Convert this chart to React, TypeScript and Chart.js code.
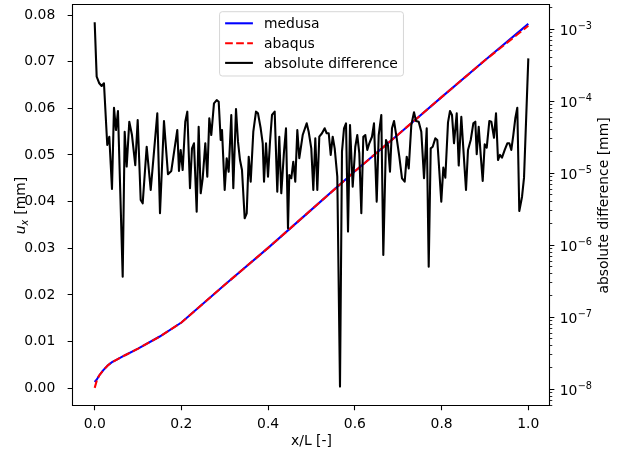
import React, { useEffect, useRef } from 'react';
import { Chart, registerables } from 'chart.js';

Chart.register(...registerables);

// ---------- data ----------
const dispX = [0, 0.005, 0.01, 0.02, 0.03, 0.04, 0.05, 0.07, 0.1, 0.15, 0.2, 0.3, 0.4, 0.5, 0.6, 0.7, 0.8, 0.9, 1.0];
const medusa = [0.00135, 0.0019, 0.0027, 0.0039, 0.0049, 0.0056, 0.0061, 0.0071, 0.0085, 0.0111, 0.0141, 0.0222, 0.0301, 0.0383, 0.0465, 0.0544, 0.0624, 0.0703, 0.0781];
const abaqus = [0.0001, 0.0017, 0.0027, 0.0039, 0.0049, 0.0056, 0.0061, 0.0071, 0.0085, 0.0111, 0.0141, 0.0222, 0.0301, 0.0383, 0.0465, 0.0544, 0.0624, 0.0703, 0.0777];

const diffX = [
  0.0, 0.0046, 0.0106, 0.0161, 0.0214, 0.029, 0.0337, 0.0399, 0.0445, 0.0491,
  0.0537, 0.0646, 0.0692, 0.0738, 0.0798, 0.086, 0.0936, 0.0992, 0.1061, 0.1107,
  0.1199, 0.1292, 0.1444, 0.1506, 0.1598, 0.169, 0.1767, 0.1905, 0.1944, 0.1983,
  0.2029, 0.2089, 0.2136, 0.2198, 0.2244, 0.229, 0.2352, 0.2398, 0.2445, 0.2491,
  0.2551, 0.2597, 0.2643, 0.2689, 0.2751, 0.2814, 0.286, 0.2906, 0.2936, 0.2998,
  0.3044, 0.309, 0.315, 0.3197, 0.3259, 0.3305, 0.3351, 0.3397, 0.3459, 0.3506,
  0.3552, 0.3598, 0.3658, 0.372, 0.3766, 0.3828, 0.3875, 0.3905, 0.3951, 0.3997,
  0.4043, 0.4089, 0.4151, 0.4211, 0.4257, 0.4303, 0.4366, 0.4412, 0.4458, 0.4488,
  0.4534, 0.458, 0.4626, 0.4673, 0.4719, 0.4797, 0.4889, 0.4935, 0.4995, 0.5042,
  0.5088, 0.5134, 0.518, 0.5242, 0.5304, 0.535, 0.5397, 0.5443, 0.5489, 0.5535,
  0.5595, 0.5657, 0.5703, 0.575, 0.5796, 0.5842, 0.5888, 0.595, 0.601, 0.6056,
  0.6102, 0.6149, 0.6195, 0.6241, 0.6287, 0.6333, 0.6395, 0.6441, 0.6504, 0.655,
  0.661, 0.6656, 0.6718, 0.6764, 0.681, 0.6856, 0.6903, 0.6965, 0.7025, 0.7087,
  0.7149, 0.7196, 0.7242, 0.7302, 0.7364, 0.741, 0.7472, 0.7532, 0.7595, 0.7657,
  0.7703, 0.7749, 0.7795, 0.7855, 0.7901, 0.7993, 0.804, 0.8086, 0.8148, 0.8194,
  0.824, 0.8286, 0.8349, 0.8395, 0.8455, 0.8501, 0.8563, 0.8609, 0.8672, 0.8732,
  0.8778, 0.881, 0.8856, 0.8902, 0.8948, 0.8994, 0.9041, 0.9101, 0.9147, 0.9209,
  0.9255, 0.9301, 0.9347, 0.9393, 0.9456, 0.9516, 0.9562, 0.9608, 0.9654, 0.97,
  0.9746, 0.9792, 0.9855, 0.9901, 1.0,
];
const diffY = [
  1.25e-3, 2.2e-4, 1.78e-4, 1.63e-4, 1.78e-4, 2.47e-5, 3.22e-5, 6.05e-6, 8.15e-5, 3.99e-5,
  7.33e-5, 3.66e-7, 3.78e-5, 1.24e-5, 5.21e-5, 3.4e-5, 1.3e-5, 5.5e-5, 4.26e-6, 3.83e-6,
  2.34e-5, 5.86e-6, 6.8e-5, 2.78e-6, 5.32e-5, 9.7e-6, 1.08e-5, 4.0e-5, 1.08e-5, 2.11e-5,
  1.11e-5, 5.21e-5, 7.18e-5, 6.2e-6, 2.22e-5, 2.61e-5, 2.93e-6, 4.43e-5, 5.27e-6, 8.53e-6,
  2.61e-5, 8.97e-6, 5.81e-5, 3.4e-5, 9.38e-5, 1.04e-4, 9.87e-5, 2.9e-5, 3.99e-5, 5.86e-6,
  1.62e-5, 1.05e-5, 6.46e-5, 6.2e-6, 7.82e-5, 2.75e-5, 1.53e-5, 1.11e-5, 2.37e-6, 2.78e-6,
  1.7e-5, 7.64e-6, 3.78e-5, 7.18e-5, 6.8e-5, 4.22e-5, 2.61e-5, 7.64e-6, 2.61e-5, 8.97e-6,
  2.75e-5, 6.46e-5, 7.18e-5, 5.55e-6, 3.22e-5, 5.27e-6, 2.0e-5, 4.22e-5, 1.72e-6, 9.46e-6,
  8.53e-6, 1.45e-5, 7.64e-6, 3.99e-5, 1.62e-5, 3.4e-5, 4.94e-5, 3.78e-5, 2.22e-5, 5.86e-6,
  3.06e-5, 5.86e-6, 3.22e-5, 3.6e-5, 4.22e-5, 3.6e-5, 3.6e-5, 1.8e-5, 3.22e-5, 2.22e-5,
  8.97e-6, 1.09e-8, 2.0e-5, 4.22e-5, 4.94e-5, 1.55e-6, 4.69e-5, 6.52e-6, 2.34e-5, 3.4e-5,
  1.9e-5, 2.78e-6, 3.22e-5, 3.4e-5, 2.11e-5, 2.61e-5, 3.22e-5, 4.94e-5, 4.04e-6, 3.4e-5,
  6.46e-5, 7.33e-7, 2.9e-5, 2.47e-5, 1.05e-5, 4.22e-5, 5.32e-5, 3.06e-5, 1.7e-5, 8.53e-6,
  7.64e-6, 1.7e-5, 1.17e-5, 4.69e-5, 7.03e-5, 5.32e-5, 5.21e-5, 3.78e-5, 8.53e-6, 4.22e-5,
  5.05e-7, 2.22e-5, 2.34e-5, 3.06e-5, 2.9e-5, 4.04e-6, 1.2e-5, 8.7e-6, 5.1e-5, 7.33e-5,
  6.46e-5, 2.61e-5, 6.8e-5, 1.28e-5, 6.1e-5, 2.22e-5, 5.86e-6, 2.11e-5, 2.9e-5, 4.94e-5,
  5.21e-5, 1.84e-5, 4.43e-5, 1.8e-5, 7.82e-6, 2.53e-5, 2.27e-5, 5.32e-5, 5.21e-5, 3.12e-5,
  6.8e-5, 1.53e-5, 1.8e-5, 1.65e-5, 2.11e-5, 2.61e-5, 2.61e-5, 2.11e-5, 3.4e-5, 5.81e-5,
  8.15e-5, 2.99e-6, 4.73e-6, 8.7e-6, 3.95e-4,
];

const xTicks = [0, 0.2, 0.4, 0.6, 0.8, 1.0];
const uTicks = [0, 0.01, 0.02, 0.03, 0.04, 0.05, 0.06, 0.07, 0.08];
const logExps = [-8, -7, -6, -5, -4, -3];

const seriesLabels = ['medusa', 'abaqus', 'absolute difference'];
const xTitle = 'x/L [-]';
const rightTitle = 'absolute difference [mm]';

// ---------- style ----------
const FAM = '"DejaVu Sans", sans-serif';
const FS = 13.9;
const LW = 2.08;
const TICK = 4.86;
const MINOR = 2.78;
const DASH = [7.7, 3.33];

const mplPlugin = {
  id: 'mpl',
  afterDraw(chart: any) {
    const ctx: CanvasRenderingContext2D = chart.ctx;
    const { left, right, top, bottom } = chart.chartArea;
    const xs = chart.scales.x;
    const ys = chart.scales.y;
    const y2 = chart.scales.y2;
    ctx.save();
    ctx.strokeStyle = '#000';
    ctx.fillStyle = '#000';

    // spines
    ctx.lineWidth = 1.1;
    ctx.beginPath();
    ctx.rect(left - 0.5, top - 0.5, right - left, bottom - top);
    ctx.stroke();

    // major ticks
    ctx.beginPath();
    for (const v of xTicks) {
      const p = Math.floor(xs.getPixelForValue(v)) + 0.5;
      ctx.moveTo(p, bottom - 0.5);
      ctx.lineTo(p, bottom - 0.5 + TICK);
    }
    for (const v of uTicks) {
      const p = Math.floor(ys.getPixelForValue(v)) + 0.5;
      ctx.moveTo(left - 0.5, p);
      ctx.lineTo(left - 0.5 - TICK, p);
    }
    for (const e of logExps) {
      const p = Math.floor(y2.getPixelForValue(Math.pow(10, e))) + 0.5;
      ctx.moveTo(right - 0.5, p);
      ctx.lineTo(right - 0.5 + TICK, p);
    }
    ctx.stroke();

    // minor log ticks
    ctx.lineWidth = 0.83;
    ctx.beginPath();
    for (let e = -9; e <= -3; e++) {
      for (let k = 2; k <= 9; k++) {
        const v = k * Math.pow(10, e);
        if (v < y2.min || v > y2.max) continue;
        const p = Math.floor(y2.getPixelForValue(v)) + 0.5;
        ctx.moveTo(right - 0.5, p);
        ctx.lineTo(right - 0.5 + MINOR, p);
      }
    }
    ctx.stroke();

    // right tick labels 10^e
    ctx.textBaseline = 'alphabetic';
    ctx.textAlign = 'left';
    for (const e of logExps) {
      const p = y2.getPixelForValue(Math.pow(10, e));
      const x0 = right + 9.7;
      ctx.font = `${FS}px ${FAM}`;
      ctx.fillText('10', x0, p + 6);
      const w = ctx.measureText('10').width;
      ctx.font = `${FS * 0.7}px ${FAM}`;
      ctx.fillText('\u2212' + Math.abs(e), x0 + w + 0.3, p + 6 - 5.8);
    }

    // x title
    ctx.font = `${FS}px ${FAM}`;
    ctx.textAlign = 'center';
    ctx.fillText(xTitle, (left + right) / 2, 445);

    // right title
    ctx.save();
    ctx.translate(608, (top + bottom) / 2);
    ctx.rotate(-Math.PI / 2);
    ctx.textAlign = 'center';
    ctx.fillText(rightTitle, 0, 0);
    ctx.restore();

    // left title: u_x [mm]
    ctx.save();
    ctx.translate(25, (top + bottom) / 2);
    ctx.rotate(-Math.PI / 2);
    ctx.textAlign = 'left';
    const fI = `oblique ${FS}px ${FAM}`;
    const fS = `oblique ${FS * 0.7}px ${FAM}`;
    const fR = `${FS}px ${FAM}`;
    ctx.font = fI; const wU = ctx.measureText('u').width;
    ctx.font = fS; const wX = ctx.measureText('x').width;
    ctx.font = fR; const wR = ctx.measureText(' [mm]').width;
    const total = wU + wX + 0.5 + wR;
    let cx = -total / 2;
    ctx.font = fI; ctx.fillText('u', cx, 0); cx += wU;
    ctx.font = fS; ctx.fillText('x', cx, 2.6); cx += wX + 0.5;
    ctx.font = fR; ctx.fillText(' [mm]', cx, 0);
    ctx.restore();

    // legend
    ctx.font = `${FS}px ${FAM}`;
    let tw = 0;
    for (const s of seriesLabels) tw = Math.max(tw, ctx.measureText(s).width);
    const pad = 5.56, hl = 27.8, htp = 11.1;
    const bw = pad * 2 + hl + htp + tw;
    const bx = (left + right) / 2 - bw / 2;
    const by = 11.7;
    const bh = 64.3;
    const r = 2.8;
    ctx.beginPath();
    ctx.moveTo(bx + r, by);
    ctx.lineTo(bx + bw - r, by);
    ctx.arcTo(bx + bw, by, bx + bw, by + r, r);
    ctx.lineTo(bx + bw, by + bh - r);
    ctx.arcTo(bx + bw, by + bh, bx + bw - r, by + bh, r);
    ctx.lineTo(bx + r, by + bh);
    ctx.arcTo(bx, by + bh, bx, by + bh - r, r);
    ctx.lineTo(bx, by + r);
    ctx.arcTo(bx, by, bx + r, by, r);
    ctx.closePath();
    ctx.fillStyle = 'rgba(255,255,255,0.8)';
    ctx.fill();
    ctx.strokeStyle = 'rgba(204,204,204,0.8)';
    ctx.lineWidth = 1;
    ctx.stroke();

    const colors = ['#0000ff', '#ff0000', '#000000'];
    const rowY = [23.3, 43.3, 62.9];
    for (let i = 0; i < 3; i++) {
      ctx.strokeStyle = colors[i];
      ctx.lineWidth = LW;
      ctx.setLineDash(i === 1 ? DASH : []);
      ctx.beginPath();
      ctx.moveTo(bx + pad, rowY[i]);
      ctx.lineTo(bx + pad + hl, rowY[i]);
      ctx.stroke();
      ctx.setLineDash([]);
      ctx.fillStyle = '#000';
      ctx.textAlign = 'left';
      ctx.fillText(seriesLabels[i], bx + pad + hl + htp, rowY[i] + 5);
    }
    ctx.restore();
  },
};

export default function App() {
  const ref = useRef<HTMLCanvasElement | null>(null);
  useEffect(() => {
    if (!ref.current) return;
    Chart.defaults.font.family = FAM;
    Chart.defaults.font.size = FS;
    Chart.defaults.color = '#000';
    const pts = (xs: number[], ys: number[]) => xs.map((x, i) => ({ x, y: ys[i] }));
    const chart = new Chart(ref.current, {
      type: 'line',
      data: {
        datasets: [
          {
            label: seriesLabels[2],
            data: pts(diffX, diffY),
            borderColor: '#000000',
            borderWidth: LW,
            borderJoinStyle: 'round',
            pointRadius: 0,
            yAxisID: 'y2',
            order: 0,
          },
          {
            label: seriesLabels[1],
            data: pts(dispX, abaqus),
            borderColor: '#ff0000',
            borderWidth: LW,
            borderDash: DASH,
            pointRadius: 0,
            yAxisID: 'y',
            order: 1,
          },
          {
            label: seriesLabels[0],
            data: pts(dispX, medusa),
            borderColor: '#0000ff',
            borderWidth: LW,
            pointRadius: 0,
            yAxisID: 'y',
            order: 2,
          },
        ],
      } as any,
      options: {
        animation: false,
        responsive: false,
        devicePixelRatio: 1,
        events: [],
        layout: { padding: { top: 5, left: 0, right: 0, bottom: 0 } },
        plugins: { legend: { display: false }, tooltip: { enabled: false } },
        scales: {
          x: {
            type: 'linear',
            min: -0.05,
            max: 1.05,
            afterBuildTicks: (s: any) => { s.ticks = xTicks.map((v) => ({ value: v })); },
            afterFit: (s: any) => { s.height = 46; s.paddingLeft = 0; s.paddingRight = 0; },
            ticks: { callback: (v: any) => Number(v).toFixed(1), padding: 2.5, maxRotation: 0, autoSkip: false, color: '#000' },
            grid: { display: false },
            border: { display: false },
          },
          y: {
            type: 'linear',
            position: 'left',
            min: -0.003786,
            max: 0.082143,
            afterBuildTicks: (s: any) => { s.ticks = uTicks.map((v) => ({ value: v })); },
            afterFit: (s: any) => { s.width = 73; s.paddingTop = 0; s.paddingBottom = 0; },
            ticks: { callback: (v: any) => Number(v).toFixed(2), padding: 9.7, autoSkip: false, color: '#000' },
            grid: { display: false },
            border: { display: false },
          },
          y2: {
            type: 'logarithmic',
            position: 'right',
            min: Math.pow(10, -8.232),
            max: Math.pow(10, -2.6625),
            afterFit: (s: any) => { s.width = 70; s.paddingTop = 0; s.paddingBottom = 0; },
            ticks: { display: false },
            grid: { display: false },
            border: { display: false },
          },
        },
      } as any,
      plugins: [mplPlugin],
    });
    return () => chart.destroy();
  }, []);
  return (
    <div style={{ position: 'fixed', left: 0, top: 0, width: 620, height: 452, background: '#fff' }}>
      <canvas ref={ref} width={620} height={452} style={{ width: 620, height: 452, display: 'block' }} />
    </div>
  );
}
